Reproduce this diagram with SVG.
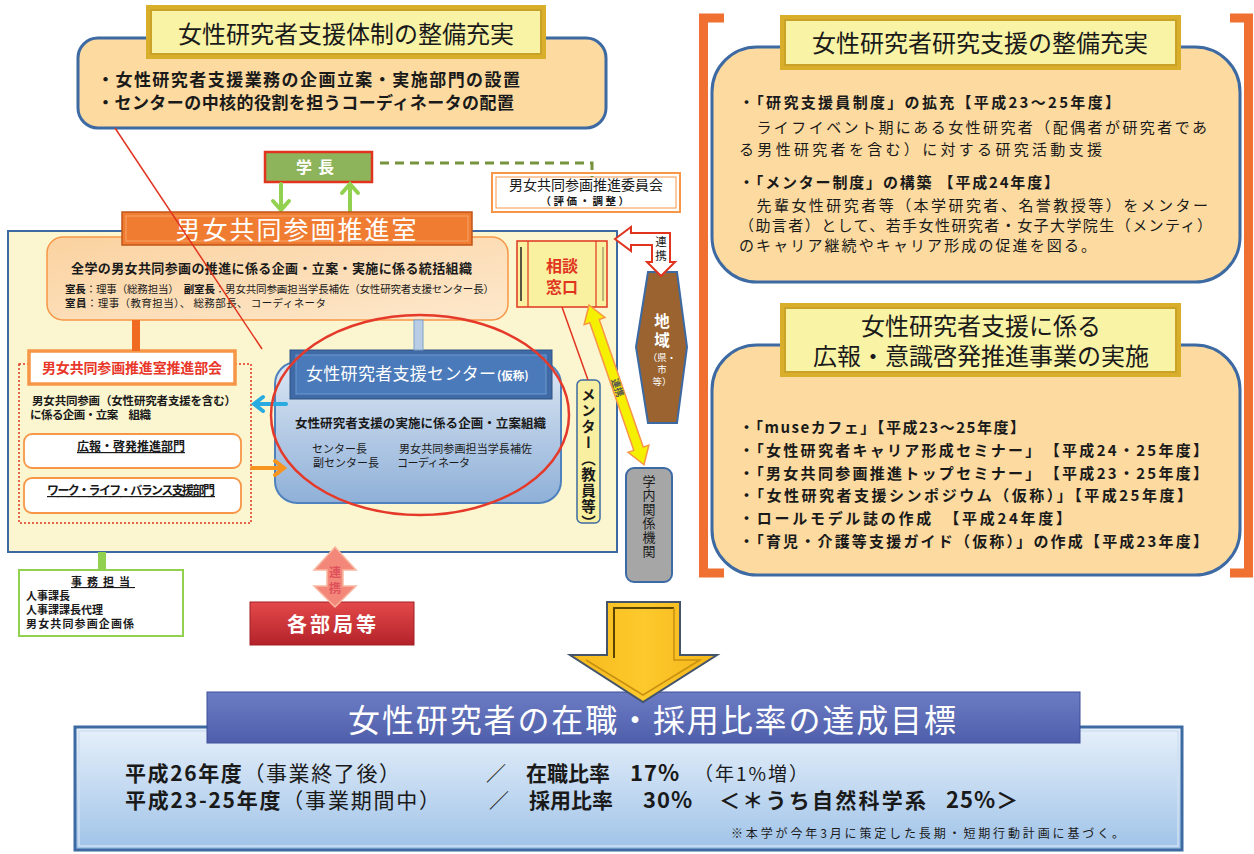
<svg xmlns="http://www.w3.org/2000/svg" width="1254" height="854" viewBox="0 0 1254 854">
<defs>
<style>
text{font-family:"Noto Sans CJK JP","Noto Sans",sans-serif;fill:#1a1a1a}
.b{font-weight:bold}
.w{fill:#fff}
.ttl{font-size:24px;text-anchor:middle}
.rt{font-size:15px}
.vt{writing-mode:vertical-rl}
.mid{text-anchor:middle}
.ybox{fill:#f9f3a6;stroke:#c9a227;stroke-width:2}
.ybor{fill:#d8ae2a}
.pbox{fill:#fddba0;stroke:#3d6aa3;stroke-width:3}
</style>
<linearGradient id="peach" x1="0" y1="0" x2="1" y2="1"><stop offset="0" stop-color="#fbd2a0"/><stop offset="1" stop-color="#fde8cc"/></linearGradient>
<linearGradient id="blueBody" x1="0" y1="0" x2="0" y2="1"><stop offset="0" stop-color="#dbe6f3"/><stop offset="1" stop-color="#8fb0d8"/></linearGradient>
<linearGradient id="redG" x1="0" y1="0" x2="0" y2="1"><stop offset="0" stop-color="#e4494a"/><stop offset="1" stop-color="#b3232a"/></linearGradient>
<linearGradient id="botG" x1="0" y1="0" x2="0" y2="1"><stop offset="0" stop-color="#e6f0fa"/><stop offset="1" stop-color="#a0c3e8"/></linearGradient>
<linearGradient id="indigo" x1="0" y1="0" x2="0" y2="1"><stop offset="0" stop-color="#6c7cc4"/><stop offset="1" stop-color="#4e5eaa"/></linearGradient>
<linearGradient id="gold" x1="0" y1="0" x2="1" y2="0"><stop offset="0" stop-color="#f6b91c"/><stop offset="0.5" stop-color="#fdc92c"/><stop offset="1" stop-color="#f3b51a"/></linearGradient>
</defs>
<rect width="1254" height="854" fill="#fff"/>

<!-- top-left box -->
<g id="box-taisei">
<rect x="78" y="38" width="528" height="90" rx="20" class="pbox"/>
<rect x="146" y="5" width="400" height="54" class="ybor"/>
<rect x="151" y="10" width="390" height="44" class="ybox"/>
<text x="346" y="43" class="ttl">女性研究者支援体制の整備充実</text>
<text x="97" y="86" class="b" font-size="17" textLength="423" lengthAdjust="spacing">・女性研究者支援業務の企画立案・実施部門の設置</text>
<text x="97" y="109" class="b" font-size="17" textLength="417" lengthAdjust="spacing">・センターの中核的役割を担うコーディネータの配置</text>
</g>

<!-- 学長 -->
<g id="gakucho">
<rect x="265" y="152" width="107" height="30" fill="#8db45a" stroke="#e0341f" stroke-width="2.5"/>
<text x="318" y="173" class="b w mid" font-size="16" letter-spacing="6">学長</text>
</g>

<!-- committee -->
<g id="iinkai">
<rect x="492" y="173" width="188" height="39" fill="#fff" stroke="#f79646" stroke-width="2"/>
<rect x="496" y="177" width="180" height="31" fill="none" stroke="#f79646" stroke-width="1"/>
<text x="586" y="190" class="mid" font-size="14">男女共同参画推進委員会</text>
<text x="586" y="205" class="mid b" font-size="10.5" letter-spacing="2.5">（評価・調整）</text>
</g>

<!-- main container -->
<g id="suishinshitsu-area">
<rect x="8" y="231" width="609" height="321" fill="#fbf6cf" stroke="#3d6aa3" stroke-width="2"/>
</g>

<g id="tokatsu">
<rect x="47" y="237" width="461" height="83" rx="16" fill="url(#peach)" stroke="#f79646" stroke-width="1.5"/>
<text x="71" y="273" class="b" font-size="13" textLength="401" lengthAdjust="spacing">全学の男女共同参画の推進に係る企画・立案・実施に係る統括組織</text>
<text x="65" y="293" font-size="10.5" textLength="429" lengthAdjust="spacing"><tspan class="b">室長</tspan>：理事（総務担当）　<tspan class="b">副室長</tspan>：男女共同参画担当学長補佐（女性研究者支援センター長）</text>
<text x="65" y="307" font-size="10.5" textLength="261" lengthAdjust="spacing"><tspan class="b">室員</tspan>：理事（教育担当）、 総務部長、 コーディネータ</text>
</g>

<g id="bukai">
<rect x="19" y="364" width="232" height="159" fill="none" stroke="#e0341f" stroke-width="1.5" stroke-dasharray="2,2"/>
<rect x="29" y="351" width="206" height="33" fill="#fff" stroke="#f79646" stroke-width="3.5"/>
<text x="132" y="373" class="b mid" font-size="14" style="fill:#e8382a" textLength="180" lengthAdjust="spacing">男女共同参画推進室推進部会</text>
<text x="32" y="405" class="b" font-size="11.5" textLength="204" lengthAdjust="spacing">男女共同参画（女性研究者支援を含む）</text>
<text x="30" y="419" class="b" font-size="11.5" textLength="121" lengthAdjust="spacing">に係る企画・立案　組織</text>
</g>
<g id="koho">
<rect x="24" y="434" width="217" height="34" rx="8" fill="#fff" stroke="#f79646" stroke-width="1.8"/>
<text x="131" y="451" class="b mid" font-size="12" text-decoration="underline">広報・啓発推進部門</text>
</g>
<g id="wlb">
<rect x="24" y="478" width="217" height="35" rx="8" fill="#fff" stroke="#f79646" stroke-width="1.8"/>
<text x="131" y="495" class="b mid" font-size="12" text-decoration="underline" textLength="168" lengthAdjust="spacing">ワーク・ライフ・バランス支援部門</text>
</g>

<g id="center">
<rect x="275" y="362" width="286" height="141" rx="22" fill="url(#blueBody)" stroke="#4f81bd" stroke-width="2"/>
<rect x="290" y="350" width="262" height="49" fill="#3f6aa6" stroke="#2f5283" stroke-width="1"/>
<rect x="296" y="355" width="250" height="39" fill="#4a7aba" stroke="#6f9ad0" stroke-width="1"/>
<text x="306" y="380" class="w" font-size="17" textLength="190" lengthAdjust="spacing">女性研究者支援センター</text>
<text x="497" y="380" class="w b" font-size="11.5">(仮称)</text>
<text x="295" y="428" class="b" font-size="12.5" textLength="251" lengthAdjust="spacing">女性研究者支援の実施に係る企画・立案組織</text>
<text x="312" y="453" font-size="11">センター長</text>
<text x="399" y="453" font-size="11" textLength="133" lengthAdjust="spacing">男女共同参画担当学長補佐</text>
<text x="313" y="467" font-size="11">副センター長</text>
<text x="397" y="467" font-size="11" textLength="73" lengthAdjust="spacing">コーディネータ</text>
</g>

<g id="sodan">
<rect x="517" y="241" width="90" height="66" fill="#f9f1a0" stroke="#e0341f" stroke-width="1.5"/>
<line x1="528" y1="241" x2="528" y2="307" stroke="#e0341f" stroke-width="1.2"/>
<line x1="596" y1="241" x2="596" y2="307" stroke="#e0341f" stroke-width="1.2"/>
<line x1="521" y1="247" x2="521" y2="301" stroke="#222" stroke-width="1.5"/>
<line x1="603" y1="247" x2="603" y2="301" stroke="#a8a070" stroke-width="1.5"/>
<text x="562" y="272" class="b mid" font-size="16" style="fill:#e0341f">相談</text>
<text x="562" y="293" class="b mid" font-size="16" style="fill:#e0341f">窓口</text>
</g>

<g id="mentor">
<rect x="577" y="380" width="23" height="143" rx="5" fill="#f8f0a0" stroke="#3d6aa3" stroke-width="1.5"/>
<text x="588.5" y="387" class="b vt" font-size="14.5" letter-spacing="1.5">メンター（教員等）</text>
</g>

<g id="chiiki">
<polygon points="648,272 677,272 687,347 677,423 648,423 636,347" fill="#9a6330" stroke="#3d6aa3" stroke-width="2"/>
<text x="662" y="327" class="b w mid" font-size="15.5">地</text>
<text x="662" y="346" class="b w mid" font-size="15.5">域</text>
<text x="662" y="361" class="w mid" font-size="9.5">（県・</text>
<text x="662" y="373" class="w mid" font-size="9.5">市</text>
<text x="662" y="385" class="w mid" font-size="9.5">等）</text>
</g>

<g id="gakunai">
<rect x="626" y="468" width="46" height="114" rx="8" fill="#a6a6a6" stroke="#3d6aa3" stroke-width="2"/>
<text x="649" y="475" class="vt" font-size="13" letter-spacing="1">学内関係機関</text>
</g>

<g id="jimu">
<rect x="19" y="570" width="164" height="66" fill="#fff" stroke="#92d050" stroke-width="2"/>
<text x="103" y="586" class="b mid" font-size="11" letter-spacing="5" text-decoration="underline">事務担当</text>
<text x="26" y="600" class="b" font-size="11">人事課長</text>
<text x="26" y="614" class="b" font-size="11">人事課課長代理</text>
<text x="26" y="628" class="b" font-size="11" textLength="108" lengthAdjust="spacing">男女共同参画企画係</text>
</g>

<g id="kakubu">
<rect x="250" y="602" width="164" height="43" fill="url(#redG)" stroke="#a02024" stroke-width="1"/>
<text x="333" y="632" class="b w mid" font-size="20" letter-spacing="3">各部局等</text>
</g>

<!-- right side -->
<g id="brackets" fill="none" stroke="#ef7030" stroke-width="9">
<path d="M724,18 H703.5 V573 H724"/>
<path d="M1230,18 H1248.5 V573 H1230"/>
</g>

<g id="box-kenkyu">
<rect x="712" y="47" width="528" height="235" rx="45" class="pbox"/>
<rect x="780" y="15" width="401" height="55" class="ybor"/>
<rect x="785" y="20" width="391" height="45" class="ybox"/>
<text x="980" y="52" class="ttl">女性研究者研究支援の整備充実</text>
<text x="739" y="108" class="rt b" textLength="381" lengthAdjust="spacing">・「研究支援員制度」の拡充【平成23～25年度】</text>
<text x="739" y="133" class="rt" textLength="468" lengthAdjust="spacing">　ライフイベント期にある女性研究者（配偶者が研究者であ</text>
<text x="739" y="155" class="rt" textLength="363" lengthAdjust="spacing">る男性研究者を含む）に対する研究活動支援</text>
<text x="739" y="188" class="rt b" textLength="320" lengthAdjust="spacing">・「メンター制度」の構築 【平成24年度】</text>
<text x="739" y="211" class="rt" textLength="469" lengthAdjust="spacing">　先輩女性研究者等（本学研究者、名誉教授等）をメンター</text>
<text x="739" y="231" class="rt" textLength="473" lengthAdjust="spacing">（助言者）として、若手女性研究者・女子大学院生（メンティ）</text>
<text x="739" y="251" class="rt" textLength="357" lengthAdjust="spacing">のキャリア継続やキャリア形成の促進を図る。</text>
</g>

<g id="box-koho">
<rect x="712" y="345" width="528" height="230" rx="45" class="pbox"/>
<rect x="780" y="303" width="401" height="74" class="ybor"/>
<rect x="785" y="308" width="391" height="64" class="ybox"/>
<text x="981" y="335" class="ttl">女性研究者支援に係る</text>
<text x="981" y="365" class="ttl">広報・意識啓発推進事業の実施</text>
<text x="739" y="433" class="rt b" textLength="286" lengthAdjust="spacing">・「museカフェ」【平成23～25年度】</text>
<text x="739" y="456" class="rt b" textLength="469" lengthAdjust="spacing">・「女性研究者キャリア形成セミナー」　【平成24・25年度】</text>
<text x="739" y="479" class="rt b" textLength="469" lengthAdjust="spacing">・「男女共同参画推進トップセミナー」　【平成23・25年度】</text>
<text x="739" y="501" class="rt b" textLength="453" lengthAdjust="spacing">・「女性研究者支援シンポジウム（仮称）」【平成25年度】</text>
<text x="739" y="524" class="rt b" textLength="332" lengthAdjust="spacing">・ロールモデル誌の作成　【平成24年度】</text>
<text x="739" y="547" class="rt b" textLength="469" lengthAdjust="spacing">・「育児・介護等支援ガイド（仮称）」の作成【平成23年度】</text>
</g>

<!-- bottom -->
<g id="mokuhyo">
<rect x="75" y="727" width="1107" height="123" fill="url(#botG)" stroke="#3d6aa3" stroke-width="3"/>
<rect x="79" y="731" width="1099" height="115" fill="none" stroke="#cfe0f2" stroke-width="1.5"/>
<rect x="207" y="692" width="873" height="51" fill="url(#indigo)" stroke="#3f4f9a" stroke-width="1"/>
<text x="348" y="732" class="w" font-size="32" textLength="608" lengthAdjust="spacing">女性研究者の在職・採用比率の達成目標</text>
<text x="125" y="781" font-size="21" textLength="275" lengthAdjust="spacing"><tspan class="b">平成26年度</tspan>（事業終了後）</text>
<text x="125" y="808" font-size="21" textLength="315" lengthAdjust="spacing"><tspan class="b">平成23-25年度</tspan>（事業期間中）</text>
<text x="486" y="781" font-size="20">／</text>
<text x="489" y="808" font-size="20">／</text>
<text x="526" y="781" class="b" font-size="21">在職比率</text>
<text x="630" y="781" class="b" font-size="22" letter-spacing="1">17%</text>
<text x="694" y="781" font-size="19" textLength="114" lengthAdjust="spacing">（年1%増）</text>
<text x="529" y="808" class="b" font-size="21">採用比率</text>
<text x="643" y="808" class="b" font-size="22" letter-spacing="1">30%</text>
<text x="719" y="808" class="b" font-size="21" textLength="207" lengthAdjust="spacing">＜＊うち自然科学系</text>
<text x="946" y="808" class="b" font-size="22" letter-spacing="1">25%＞</text>
<text x="731" y="838" font-size="12" textLength="393" lengthAdjust="spacing">※本学が今年3月に策定した長期・短期行動計画に基づく。</text>
</g>

<!-- connectors -->
<g id="connectors">
<rect x="132" y="320" width="8" height="31" fill="#f06a22"/>
<rect x="414" y="320" width="9" height="30" fill="#b9cde5" stroke="#7f9fc9" stroke-width="1"/>
<rect x="98" y="552" width="8" height="18" fill="#92d050"/>
<g fill="none" stroke="#92d050" stroke-width="4" stroke-linecap="round">
<line x1="281" y1="184" x2="281" y2="209"/>
<polyline points="273,201 281,210 289,201"/>
<line x1="350" y1="211" x2="350" y2="185"/>
<polyline points="342,193 350,184 358,193"/>
</g>
<polyline points="380,163 592,163 592,177" fill="none" stroke="#77933c" stroke-width="3" stroke-dasharray="9,6"/>
<g fill="none" stroke-width="4" stroke-linecap="round">
<line x1="286" y1="404" x2="256" y2="404" stroke="#29abe2"/>
<polyline points="263,397 254,404 263,411" stroke="#29abe2"/>
<line x1="252" y1="468" x2="282" y2="468" stroke="#f7941d"/>
<polyline points="275,461 284,468 275,475" stroke="#f7941d"/>
</g>
<line x1="562" y1="307" x2="588" y2="380" stroke="#e0341f" stroke-width="1.5"/>
<g transform="translate(589,305) rotate(71)">
<polygon points="0,0 17,-11 17,-5 152,-5 152,-11 169,0 152,11 152,5 17,5 17,11" fill="#f5ef00" stroke="#f79646" stroke-width="1.5"/>
<text x="78" y="3.5" font-size="9.5" class="b" style="fill:#555">連携</text>
</g>
<polygon points="615,239 631,227 631,233 670,233 670,262 675,262 661,276 647,262 652,262 652,245 631,245 631,251" fill="#fff" stroke="#e0341f" stroke-width="2"/>
<text x="661" y="246" class="mid" font-size="11.5">連</text>
<text x="661" y="260" class="mid" font-size="11.5">携</text>
<polygon points="335,547 356,570 343,570 343,586 356,586 335,607 314,586 327,586 327,570 314,570" fill="#f3877a" stroke="#f8b9a0" stroke-width="1.5"/>
<text x="335" y="577" class="mid b" font-size="12" style="fill:#e0505a">連</text>
<text x="335" y="593" class="mid b" font-size="12" style="fill:#e0505a">携</text>
<polygon points="607,602 680,602 680,655 717,655 643,702 570,655 607,655" fill="url(#gold)" stroke="#44546a" stroke-width="2"/>
<polyline points="614,658 614,608 674,608" fill="none" stroke="#5a4500" stroke-width="2"/>
<polyline points="674,608 674,660 700,660 643,695 586,660" fill="none" stroke="#c89010" stroke-width="1.5"/>
<ellipse cx="420" cy="415" rx="149" ry="100" fill="none" stroke="#e5392a" stroke-width="2.5"/>
</g>

<g id="suishinshitsu">
<rect x="122" y="212" width="350" height="33" fill="#f07c32" stroke="#c0561a" stroke-width="1.5"/>
<rect x="126" y="216" width="342" height="25" fill="none" stroke="#f6a46a" stroke-width="1"/>
<text x="297" y="239" class="w mid" font-size="25" letter-spacing="2">男女共同参画推進室</text>
</g>
<line id="link-center" x1="115" y1="128" x2="262" y2="349" stroke="#e0341f" stroke-width="1.5"/>
</svg>
